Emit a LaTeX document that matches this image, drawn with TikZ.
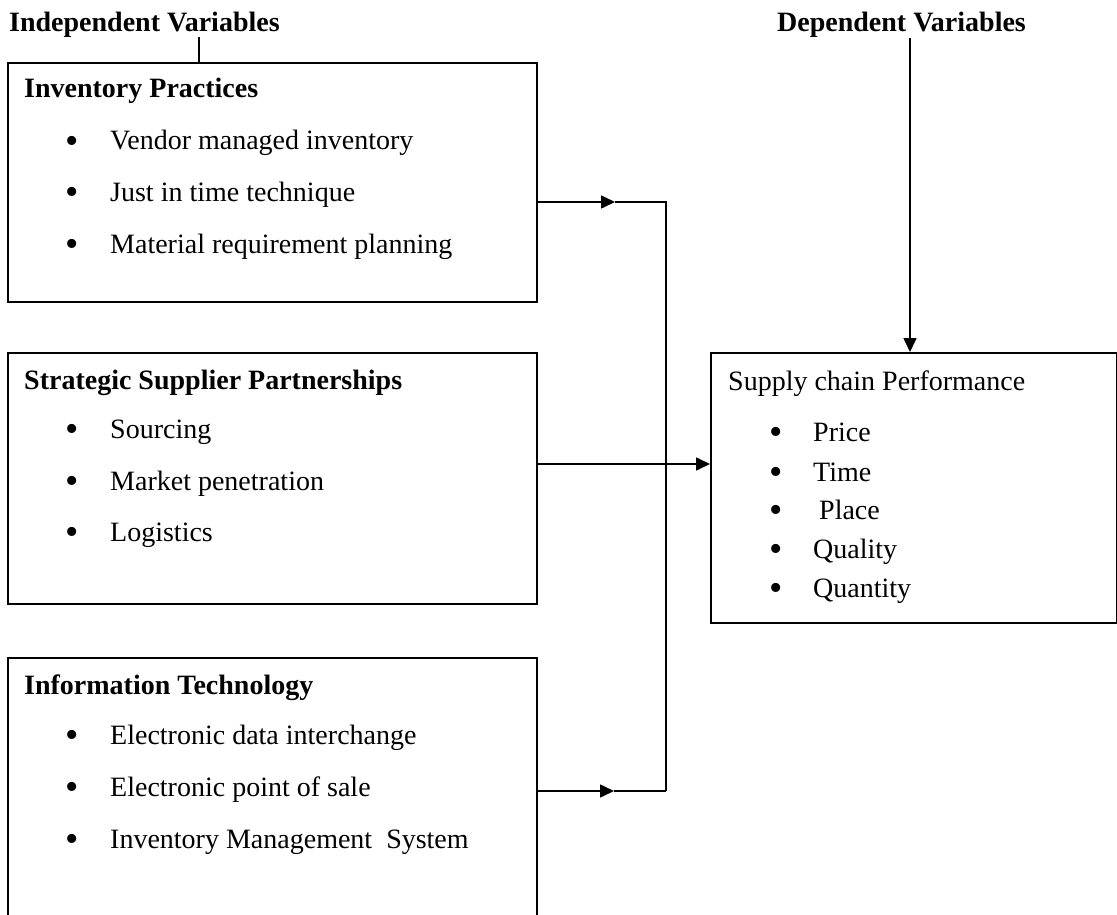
\documentclass[tikz,border=0pt]{standalone}
\usepackage{fontspec}
\setmainfont{Liberation Serif}
\usetikzlibrary{arrows.meta}
\begin{document}
\begin{tikzpicture}[x=1pt,y=-1pt,
  box/.style={draw, line width=1.6pt, rectangle, inner sep=0pt, anchor=north west},
  txt/.style={anchor=base west, inner sep=0pt, font=\fontsize{28}{34}\selectfont},
  hd/.style={anchor=base west, inner sep=0pt, font=\fontsize{28}{34}\selectfont\bfseries},
  bul/.style={anchor=base, inner sep=0pt, yshift=-3.5pt, font=\fontsize{38}{40}\selectfont},
  conn/.style={line width=1.6pt},
  arr/.style={line width=1.6pt, -{Triangle[length=14pt,width=13pt]}}]
\useasboundingbox (0,0) rectangle (1117,915);
\clip (0,0) rectangle (1117,915);

% titles
\node[hd] (indep) at (9,32) {Independent Variables};
\node[hd] (dep) at (777,32) {Dependent Variables};

% boxes
\node[box, minimum width=529pt, minimum height=239pt] (b1) at (7,62) {};
\node[box, minimum width=529pt, minimum height=251pt] (b2) at (7,352) {};
\node[box, minimum width=529pt, minimum height=300pt] (b3) at (7,657) {};
\node[box, minimum width=406pt, minimum height=270pt] (perf) at (710,352) {};

% box 1
\node[hd] (h1) at (24,98) {Inventory Practices};
\node[bul] (b1a) at (72,150) {•}; \node[txt] (t1a) at (110,150) {Vendor managed inventory};
\node[bul] (b1b) at (72,201) {•}; \node[txt] (t1b) at (110,201) {Just in time technique};
\node[bul] (b1c) at (72,253) {•}; \node[txt] (t1c) at (110,253) {Material requirement planning};

% box 2
\node[hd] (h2) at (24,389) {Strategic Supplier Partnerships};
\node[bul] (b2a) at (72,438) {•}; \node[txt] (t2a) at (110,438) {Sourcing};
\node[bul] (b2b) at (72,490) {•}; \node[txt] (t2b) at (110,490) {Market penetration};
\node[bul] (b2c) at (72,541) {•}; \node[txt] (t2c) at (110,541) {Logistics};

% box 3
\node[hd] (h3) at (24,694) {Information Technology};
\node[bul] (b3a) at (72,744) {•}; \node[txt] (t3a) at (110,744) {Electronic data interchange};
\node[bul] (b3b) at (72,796) {•}; \node[txt] (t3b) at (110,796) {Electronic point of sale};
\node[bul] (b3c) at (72,848) {•}; \node[txt] (t3c) at (110,848) {Inventory Management\ \ System};

% performance box
\node[txt] (hp) at (728,390) {Supply chain Performance};
\node[bul] (pa) at (776,441) {•}; \node[txt] (tpa) at (813,441) {Price};
\node[bul] (pb) at (776,481) {•}; \node[txt] (tpb) at (813,481) {Time};
\node[bul] (pc) at (776,519) {•}; \node[txt] (tpc) at (819,519) {Place};
\node[bul] (pd) at (776,558) {•}; \node[txt] (tpd) at (813,558) {Quality};
\node[bul] (pe) at (776,597) {•}; \node[txt] (tpe) at (813,597) {Quantity};

% connectors
\coordinate (ia) at (199,37);
\draw[conn] (ia) -- (ia |- b1.north);
\coordinate (da) at (910,38);
\draw[arr] (da) -- (da |- perf.north);

\coordinate (j1) at (666,202);
\coordinate (j3) at (666,791);
\coordinate (tip1) at (615,202);
\coordinate (tip3) at (614,791);
\coordinate (m) at (666,464);
\draw[arr] (b1.east |- j1) -- (tip1);
\draw[conn] (tip1) -- (j1) -- (j3);
\draw[arr] (b3.east |- j3) -- (tip3);
\draw[conn] (tip3) -- (j3);
\draw[arr] (b2.east |- m) -- (perf.west |- m);
\end{tikzpicture}
\end{document}
